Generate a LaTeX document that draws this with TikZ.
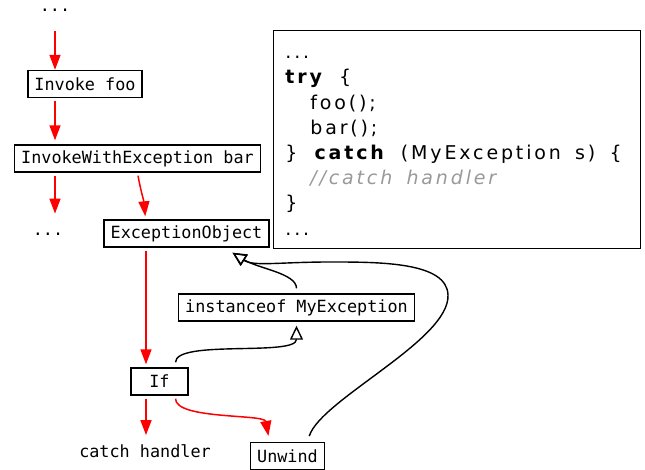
\documentclass[tikz,border=0pt]{standalone}
\usepackage{fontspec}
\setmainfont{DejaVu Sans}
\setsansfont{DejaVu Sans}
\setmonofont{DejaVu Sans Mono}
\newfontfamily\codefont[LetterSpace=15,WordSpace=1.6]{DejaVu Sans}
\usepackage{tikz}
\usetikzlibrary{arrows.meta}
\tikzstyle{box} = [draw=black, line width=0.7pt, font=\ttfamily\fontsize{8.4}{10}\selectfont, inner xsep=3.3pt, inner ysep=0pt, minimum height=13.5pt]
\tikzstyle{plain} = [font=\ttfamily\fontsize{8.4}{10}\selectfont, inner sep=1pt, text height=6pt, text depth=1.5pt]
\tikzstyle{frame} = [draw=black, line width=0.6pt, inner sep=0pt]
\tikzstyle{code} = [font=\codefont\fontsize{9.5}{12.6}\selectfont, align=left, inner sep=0pt]
\tikzstyle{flow} = [red, line width=0.75pt, -{Triangle[length=7.5pt,width=5.5pt]}]
\tikzstyle{ctrl} = [black, line width=0.7pt, -{Triangle[open,length=7pt,width=6.5pt]}]

\begin{document}
\begin{tikzpicture}[x=0.5pt, y=-0.5pt]
        % Bounding box
        \useasboundingbox (0,0) rectangle (645,470);

        % Nodes
        \node[plain, anchor=base] (top)   at (55,12)      {...};
        \node[box]                (foo)   at (85,84)      {Invoke foo};
        \node[box]                (inv)   at (137.5,158.5) {InvokeWithException bar};
        \node[plain, anchor=base] (more)  at (48,236)     {...};
        \node[box]                (exc)   at (186.5,233.5) {ExceptionObject};
        \node[box]                (inst)  at (296.5,307.5) {instanceof MyException};
        \node[box, minimum width=28.5pt] (if) at (159.5,381.5) {If};
        \node[plain]              (catch) at (145,453)    {catch handler};
        \node[box]                (unw)   at (287.5,456)  {Unwind};

        % Source listing
        \node[frame, anchor=north west, minimum width=183.5pt, minimum height=109pt] (frame) at (273,30) {};
        \node[code, anchor=north west] (src) at (285,56) {%
          ...\\
          \textbf{try} \{\\
          \hspace*{12.5pt}foo();\\
          \hspace*{12.5pt}bar();\\
          \} \textbf{catch} (MyException s) \{\\
          \hspace*{12.5pt}{\color{black!40}\itshape //catch handler}\\
          \}\\
          ...};

        % Edges
        % Normal control flow: red
        \draw[flow] ([yshift=-7pt]top.south) -- (top.south |- foo.north);
        \draw[flow, shorten <=1.5pt, shorten >=2pt] (top |- foo.south) -- (top |- inv.north);
        \draw[flow, shorten <=1.5pt, shorten >=4pt] (top |- inv.south) -- (top |- more.north);
        \draw[flow, shorten <=1.5pt, shorten >=1.5pt] (inv.south) to[out=-80, in=95] ([xshift=-20.5pt]exc.north);
        \draw[flow, shorten <=1.5pt, shorten >=1.5pt] ([xshift=-6.75pt]if.north |- exc.south) -- ([xshift=-6.75pt]if.north);
        \draw[flow, shorten <=1.5pt, shorten >=4pt] ([xshift=-6.75pt]if.south) -- ([xshift=-6.75pt]if.south |- catch.north);
        \draw[flow, shorten <=1.5pt, shorten >=3pt] ([xshift=8pt]if.south) .. controls +(0,24) and +(-5,-28) .. ([xshift=-9pt]unw.north);

        % Exception dispatch: black
        \draw[ctrl, shorten <=2.5pt, shorten >=2pt] ([xshift=8pt]if.north) .. controls +(0,-28) and +(0,35) .. (inst.south);
        \draw[ctrl, shorten <=2.5pt] (inst.north) .. controls +(0,-20) and +(26,16) .. ([xshift=23pt,yshift=-2.5pt]exc.south);
        \coordinate (loop) at (448,295);
        \draw[ctrl, shorten <=3pt] ([xshift=10pt]unw.north) .. controls +(13,-42) and +(2,45) .. (loop)
              .. controls +(-1,-33) and +(50,0) .. (330,262)
              .. controls +(-50,0) and +(21,14) .. ([xshift=23pt,yshift=-2.5pt]exc.south);

\end{tikzpicture}
\end{document}
